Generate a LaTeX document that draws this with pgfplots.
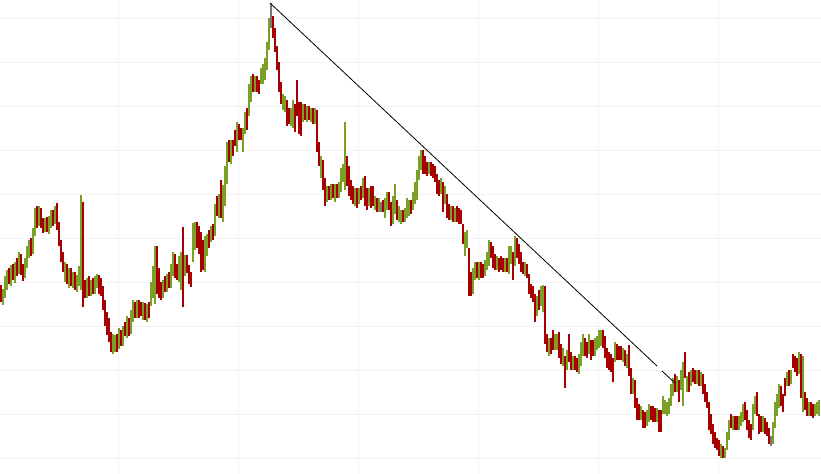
\documentclass[border=0pt]{standalone}
\usepackage{pgfplots}
\usepackage{pgfplotstable}
\pgfplotsset{compat=1.18}
\definecolor{cgreen}{RGB}{122,160,40}
\definecolor{cred}{RGB}{168,0,0}
\definecolor{cgray}{RGB}{120,120,120}
\definecolor{gridgray}{RGB}{243,243,243}
\pgfplotstableread{
x o h l c
1 288 285 302 298
3 300 289 305 292
5 295 276 298 280
7 285 270 290 274
9 272 268 284 280
11 282 265 286 268
13 266 264 280 276
15 278 262 283 265
17 266 258 276 272
19 270 252 274 256
21 258 254 275 270
23 268 264 281 276
25 274 258 278 262
27 264 246 268 250
29 252 240 258 244
31 244 238 256 252
33 250 228 254 232
35 234 208 236 214
37 212 206 228 222
39 222 206 226 210
41 212 208 228 224
43 222 218 233 230
45 230 218 232 222
47 222 217 232 228
49 228 216 234 220
51 224 210 228 214
53 214 210 226 222
55 220 206 224 212
57 210 203 230 226
59 226 222 246 242
61 244 240 262 256
63 256 252 272 268
65 276 262 282 266
67 268 264 284 278
69 282 268 288 272
71 272 268 286 280
73 282 272 288 276
75 276 272 290 284
77 286 275 292 278
79 282 266 286 270
81 275 195 290 250
83 204 202 307 298
85 286 280 298 294
87 292 278 298 282
89 282 276 296 292
91 292 280 296 284
93 286 278 294 290
95 290 276 294 280
97 284 274 288 276
99 278 275 294 290
101 280 278 296 292
103 290 286 310 305
105 305 300 326 318
107 316 312 335 324
109 322 318 342 338
111 336 332 352 348
113 350 334 354 338
115 348 335 352 340
117 338 334 352 348
119 346 328 349 332
121 334 330 346 342
123 342 326 346 330
125 326 322 336 332
127 334 316 338 322
129 322 318 336 330
131 330 310 334 318
133 318 300 322 304
135 306 302 318 314
137 314 300 318 306
139 304 300 318 312
141 306 302 316 314
143 316 302 320 306
145 306 303 320 316
147 318 304 322 310
149 308 302 318 314
151 304 282 306 288
153 290 266 298 270
155 280 246 304 250
157 250 246 294 268
159 272 268 298 292
161 286 282 300 296
163 294 280 298 284
165 280 276 292 288
167 288 274 292 278
169 276 272 288 284
171 284 264 288 268
173 270 252 276 256
175 256 254 278 270
177 268 264 280 276
179 278 256 282 262
181 268 252 290 256
183 258 227 307 270
185 272 255 276 262
187 258 255 273 268
189 268 265 284 280
191 276 272 287 284
193 258 223 262 232
195 236 222 250 226
197 226 222 248 244
199 236 226 254 248
201 240 232 272 258
203 248 240 270 262
205 264 236 272 240
207 250 234 256 240
209 236 230 248 244
211 238 226 242 230
213 228 224 240 236
215 232 204 236 210
217 200 196 216 212
219 212 194 218 200
221 190 180 218 208
223 210 185 222 190
225 196 166 206 172
227 176 142 184 150
229 146 140 162 158
231 158 140 164 146
233 146 140 156 152
235 134 130 146 142
237 146 122 152 126
239 128 124 140 136
241 132 128 140 136
243 144 128 152 132
245 130 112 134 116
247 112 108 130 126
249 112 84 116 90
251 96 76 102 80
253 78 74 92 88
255 88 76 92 80
257 80 76 92 88
259 84 80 94 90
261 80 68 84 72
263 76 64 84 68
265 72 58 80 62
267 64 42 70 46
269 48 18 50 22
271 24 3 28 24
273 20 16 38 34
275 32 28 52 48
277 50 46 70 66
279 66 62 92 88
281 86 82 104 100
283 106 94 110 98
285 108 96 112 100
287 104 100 126 122
289 112 108 124 120
291 122 108 126 112
293 118 100 128 104
295 108 104 132 124
297 104 80 116 112
299 108 102 134 126
301 112 102 136 118
303 118 104 122 108
305 108 104 120 116
307 118 106 122 110
309 110 106 120 116
311 118 108 122 112
313 112 108 124 118
315 120 108 124 112
317 114 110 152 148
319 146 142 166 162
321 174 156 178 162
323 164 160 190 186
325 182 178 206 200
327 198 186 202 190
329 190 186 200 196
331 196 184 200 188
333 188 184 198 194
335 196 184 202 188
337 188 184 198 194
339 194 182 198 186
341 188 168 192 174
343 176 164 182 168
345 172 122 190 164
347 162 156 186 180
349 170 166 196 186
351 184 180 200 194
353 190 186 204 198
355 198 188 206 192
357 192 188 208 200
359 200 188 204 192
361 190 186 200 196
363 194 178 198 182
365 180 176 206 196
367 192 188 210 204
369 202 188 206 194
371 190 186 208 204
373 192 186 206 202
375 206 196 210 200
377 202 198 212 208
379 208 198 212 202
381 206 202 212 206
383 204 200 212 210
385 212 198 218 202
387 206 192 210 196
389 196 192 210 206
391 206 202 226 220
393 218 196 224 200
395 206 184 214 186
397 204 200 220 214
399 218 206 222 212
401 220 210 224 214
403 214 210 222 218
405 220 208 222 212
407 214 198 218 202
409 210 200 216 204
411 204 200 214 210
413 206 192 210 196
415 198 182 204 186
417 190 170 200 174
419 176 156 180 160
421 164 150 170 152
423 152 150 174 168
425 160 156 174 170
427 166 162 176 172
429 172 162 174 166
431 166 162 176 172
433 168 164 178 174
435 170 166 182 178
437 178 174 194 190
439 184 180 196 192
441 190 178 194 182
443 186 182 212 208
445 198 186 204 190
447 198 194 218 214
449 208 204 220 216
451 218 206 220 210
453 210 206 222 218
455 218 208 222 212
457 210 206 222 218
459 212 208 224 220
461 214 210 224 220
463 228 224 244 240
465 252 232 256 236
467 244 230 248 234
469 252 248 296 290
471 276 272 296 292
473 290 268 294 272
475 276 262 280 266
477 266 262 278 274
479 276 262 280 266
481 266 262 278 274
483 268 264 278 274
485 272 260 276 264
487 266 252 270 256
489 262 240 266 246
491 246 242 258 254
493 250 246 268 264
495 258 254 270 266
497 266 256 270 260
499 262 258 272 268
501 260 256 270 266
503 262 258 272 268
505 268 258 272 262
507 262 258 272 268
509 266 246 274 250
511 258 246 264 250
513 256 252 280 270
515 262 236 266 240
517 242 238 258 254
519 248 244 264 260
521 256 252 272 268
523 266 262 274 270
525 272 262 276 266
527 268 264 278 274
529 278 274 294 290
531 288 284 298 294
533 290 286 302 298
535 298 294 322 316
537 312 296 316 300
539 294 290 310 304
541 300 286 306 290
543 302 285 312 290
545 290 286 344 340
547 338 334 352 348
549 350 338 356 342
551 342 338 354 350
553 334 330 350 346
555 346 334 350 338
557 346 334 350 338
559 336 332 358 354
561 348 344 364 360
563 362 348 366 352
565 360 356 388 378
567 366 350 370 354
569 338 334 362 358
571 356 352 370 366
573 366 356 370 360
575 360 356 370 366
577 362 358 372 368
579 368 354 374 358
581 360 342 366 346
583 350 334 356 338
585 342 338 356 352
587 346 342 358 354
589 350 334 354 338
591 344 340 360 356
593 346 340 356 352
595 352 338 356 342
597 346 336 350 340
599 344 330 348 334
601 342 330 346 334
603 334 330 348 344
605 340 336 358 354
607 352 348 368 364
609 356 352 370 366
611 358 354 372 366
613 362 358 382 376
615 358 342 362 346
617 348 344 360 356
619 350 346 360 356
621 350 346 360 356
623 358 348 362 352
625 354 350 366 362
627 364 354 368 358
629 350 345 376 372
631 372 368 394 390
633 390 378 394 382
635 384 380 408 404
637 402 398 420 416
639 408 404 420 416
641 416 406 420 410
643 414 410 428 424
645 416 412 428 422
647 422 410 426 414
649 418 404 422 408
651 410 406 420 416
653 410 406 422 418
655 412 408 422 418
657 418 408 422 412
659 414 410 432 420
661 414 410 432 428
663 410 396 414 400
665 410 400 414 404
667 412 402 416 406
669 410 398 414 402
671 400 384 406 388
673 392 378 396 382
675 378 374 392 388
677 388 376 392 380
679 384 380 402 398
681 386 370 390 374
683 378 362 406 366
685 360 352 378 372
687 388 376 392 380
689 376 372 392 388
691 382 370 386 374
693 372 368 382 378
695 374 370 384 380
697 380 370 384 374
699 374 370 386 382
701 382 372 386 376
703 378 374 394 390
705 388 384 402 398
707 396 392 408 404
709 406 402 430 426
711 418 414 434 430
713 428 424 444 440
715 436 432 448 444
717 442 438 450 446
719 444 440 456 452
721 454 444 458 448
723 450 446 458 456
725 454 448 458 450
727 446 432 450 436
729 436 420 440 424
731 418 414 428 424
733 426 416 430 420
735 420 416 430 426
737 420 416 430 426
739 426 416 430 420
741 422 412 426 416
743 418 404 422 408
745 406 402 420 416
747 414 410 430 426
749 424 420 438 434
751 428 424 440 436
753 426 404 430 408
755 410 396 414 400
757 398 392 416 412
759 418 414 434 430
761 420 416 432 428
763 428 416 432 420
765 422 418 434 430
767 426 422 436 432
769 432 428 444 440
771 440 436 446 440
773 440 422 444 426
775 424 402 428 408
777 410 394 416 398
779 404 384 408 390
781 390 386 406 400
783 398 394 412 408
785 382 378 396 392
787 382 372 386 376
789 374 370 386 382
791 380 370 384 374
793 358 354 368 364
795 360 356 372 368
797 362 358 376 372
799 370 352 374 358
801 360 354 398 390
803 404 356 412 392
805 396 392 410 406
807 402 398 416 410
809 412 402 416 406
811 406 402 416 412
813 408 404 418 414
815 412 404 416 408
817 410 402 414 406
819 412 400 416 404
}\candles
\pgfplotsset{
  wick/.style={color=#1, draw=#1, mark=none, line width=1.5bp, line cap=butt,
    quiver={u=0, v=\thisrow{l}-\thisrow{h}, every arrow/.append style={draw=#1}}},
  body/.style={color=#1, draw=#1, mark=none, line width=2.3bp, line cap=butt,
    quiver={u=0, v=\thisrow{c}-\thisrow{o}, every arrow/.append style={draw=#1}}},
}
\begin{document}
\begin{tikzpicture}
\begin{axis}[
  width=821bp, height=474bp, scale only axis,
  xmin=0, xmax=821, ymin=0, ymax=474, y dir=reverse,
  axis line style={draw=none},
  xtick={118.7,238.7,358.7,478.7,598.7,718.7},
  ytick={18.3,62.3,106.3,150.3,194.3,238.3,282.3,326.3,370.3,414.3,458.3},
  xticklabels={}, yticklabels={},
  major tick length=0pt,
  grid=major, grid style={color=gridgray, line width=1bp},
  clip=false,
]
% wicks
\addplot[wick=cgreen, restrict expr to domain={\thisrow{o}-\thisrow{c}}{0.5:1000}]
  table[x=x, y=h] {\candles};
\addplot[wick=cred, restrict expr to domain={\thisrow{c}-\thisrow{o}}{0.5:1000}]
  table[x=x, y=h] {\candles};
\addplot[wick=cgray, restrict expr to domain={abs(\thisrow{c}-\thisrow{o})}{-0.5:0.5}]
  table[x=x, y=h] {\candles};
% bodies
\addplot[body=cgreen, restrict expr to domain={\thisrow{o}-\thisrow{c}}{0.5:1000}]
  table[x=x, y=o] {\candles};
\addplot[body=cred, restrict expr to domain={\thisrow{c}-\thisrow{o}}{0.5:1000}]
  table[x=x, y=o] {\candles};
% trend line
\addplot[black, line width=0.8bp, mark=none] coordinates {(270,3) (657,366)};
\addplot[black, line width=0.8bp, mark=none] coordinates {(662,371) (675,383)};
\end{axis}
\pgfresetboundingbox
\path[use as bounding box] (current axis.south west) rectangle (current axis.north east);
\end{tikzpicture}
\end{document}
